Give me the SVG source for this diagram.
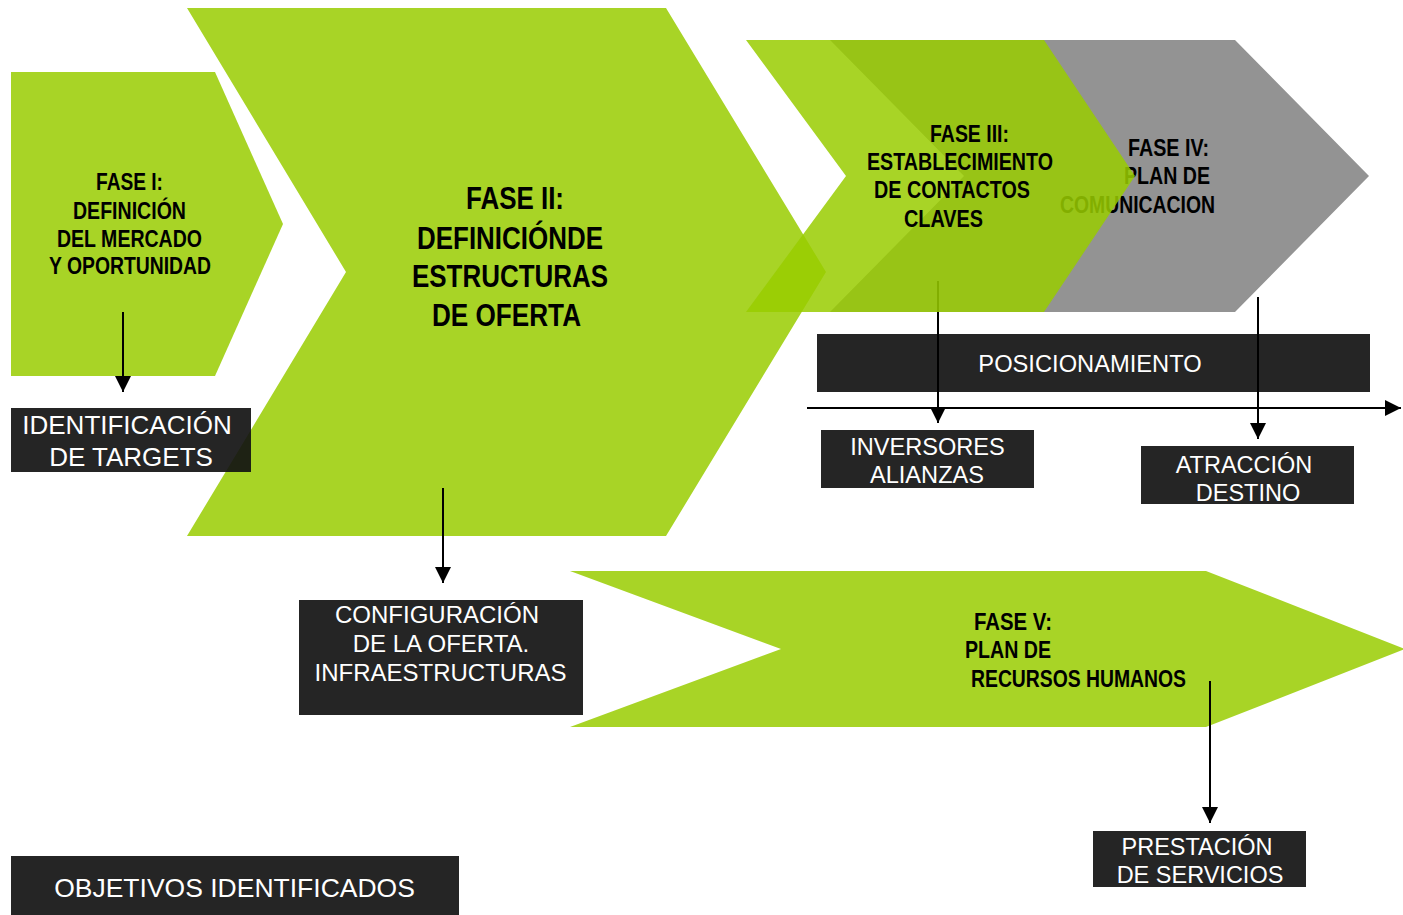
<svg xmlns="http://www.w3.org/2000/svg" width="1403" height="915" viewBox="0 0 1403 915">
<defs>
<style>
.green{fill:#99cc00;fill-opacity:0.85}
.gray{fill:#939393}
.box{fill:#121212;fill-opacity:0.92}
.bt{font-family:"Liberation Sans",Arial,sans-serif;font-weight:bold;font-size:24px;fill:#000}
.bt2{font-family:"Liberation Sans",Arial,sans-serif;font-weight:bold;font-size:32px;fill:#000}
.wt{font-family:"Liberation Sans",Arial,sans-serif;fill:#fff;text-anchor:middle}
.conn{stroke:#000;stroke-width:2;fill:none}
</style>
<marker id="ah" markerUnits="userSpaceOnUse" markerWidth="16" markerHeight="16" refX="16" refY="8" orient="auto" viewBox="0 0 16 16">
<path d="M0,0 L16,8 L0,16 z" fill="#000"/>
</marker>
</defs>
<rect width="1403" height="915" fill="#fff"/>

<g id="fase1">
<polygon class="green" points="11,72 215,72 283,224 215,376 11,376"/>
<text class="bt" x="96" y="190" textLength="67" lengthAdjust="spacingAndGlyphs">FASE I:</text>
<text class="bt" x="73" y="219" textLength="113" lengthAdjust="spacingAndGlyphs">DEFINICIÓN</text>
<text class="bt" x="57" y="247" textLength="145" lengthAdjust="spacingAndGlyphs">DEL MERCADO</text>
<text class="bt" x="49" y="274" textLength="162" lengthAdjust="spacingAndGlyphs">Y OPORTUNIDAD</text>
</g>

<g id="fase2">
<polygon class="green" points="187,8 666,8 826,272 666,536 187,536 346,272"/>
<text class="bt2" x="466" y="209" textLength="98" lengthAdjust="spacingAndGlyphs">FASE II:</text>
<text class="bt2" x="417" y="249" textLength="186" lengthAdjust="spacingAndGlyphs">DEFINICIÓNDE</text>
<text class="bt2" x="412" y="287" textLength="196" lengthAdjust="spacingAndGlyphs">ESTRUCTURAS</text>
<text class="bt2" x="432" y="326" textLength="149" lengthAdjust="spacingAndGlyphs">DE OFERTA</text>
</g>

<g id="fase5">
<polygon class="green" points="570,571 1206,571 1405,649 1206,727 570,727 781,649"/>
<text class="bt" x="974" y="630" textLength="78" lengthAdjust="spacingAndGlyphs">FASE V:</text>
<text class="bt" x="965" y="658" textLength="86" lengthAdjust="spacingAndGlyphs">PLAN DE</text>
<text class="bt" x="971" y="687" textLength="215" lengthAdjust="spacingAndGlyphs">RECURSOS HUMANOS</text>
</g>

<g id="fase4">
<polygon class="gray" points="830,40 1235,40 1369,176 1235,312 830,312 964,176"/>
<text class="bt" x="1128" y="156" textLength="81" lengthAdjust="spacingAndGlyphs">FASE IV:</text>
<text class="bt" x="1124" y="184" textLength="86" lengthAdjust="spacingAndGlyphs">PLAN DE</text>
<text class="bt" x="1060" y="213" textLength="155" lengthAdjust="spacingAndGlyphs">COMUNICACION</text>
</g>

<g id="identificacion">
<rect class="box" x="11" y="408" width="240" height="64"/>
<text class="wt" x="127" y="434" font-size="26">IDENTIFICACIÓN</text>
<text class="wt" x="131" y="466" font-size="26">DE TARGETS</text>
</g>

<g id="posicionamiento">
<rect class="box" x="817" y="334" width="553" height="58"/>
<text class="wt" x="1090" y="372" font-size="23.7">POSICIONAMIENTO</text>
</g>

<g id="inversores">
<rect class="box" x="821" y="430" width="213" height="58"/>
<text class="wt" x="927.5" y="455" font-size="23.6">INVERSORES</text>
<text class="wt" x="927" y="483" font-size="23.6">ALIANZAS</text>
</g>

<g id="atraccion">
<rect class="box" x="1141" y="446" width="213" height="58"/>
<text class="wt" x="1244" y="473" font-size="23.5">ATRACCIÓN</text>
<text class="wt" x="1248" y="501" font-size="23.5">DESTINO</text>
</g>

<g id="configuracion">
<rect class="box" x="299" y="600" width="284" height="115"/>
<text class="wt" x="437" y="623" font-size="24">CONFIGURACIÓN</text>
<text class="wt" x="441" y="652" font-size="24">DE LA OFERTA.</text>
<text class="wt" x="440.5" y="681" font-size="24">INFRAESTRUCTURAS</text>
</g>

<g id="prestacion">
<rect class="box" x="1093" y="831" width="213" height="56"/>
<text class="wt" x="1197" y="855" font-size="23.5">PRESTACIÓN</text>
<text class="wt" x="1200" y="883" font-size="23.5">DE SERVICIOS</text>
</g>

<g id="objetivos">
<rect class="box" x="11" y="856" width="448" height="59"/>
<text class="wt" x="234.5" y="897" font-size="26.5">OBJETIVOS IDENTIFICADOS</text>
</g>

<g id="connectors">
<line class="conn" x1="123" y1="312" x2="123" y2="392" marker-end="url(#ah)"/>
<line class="conn" x1="443" y1="488" x2="443" y2="583" marker-end="url(#ah)"/>
<line class="conn" x1="807" y1="408" x2="1401" y2="408" marker-end="url(#ah)"/>
<line class="conn" x1="938" y1="281" x2="938" y2="423" marker-end="url(#ah)"/>
<line class="conn" x1="1258" y1="297" x2="1258" y2="439" marker-end="url(#ah)"/>
<line class="conn" x1="1210" y1="681" x2="1210" y2="823" marker-end="url(#ah)"/>
</g>

<g id="fase3">
<polygon class="green" points="746,40 1044,40 1135,176 1044,312 746,312 846,176"/>
<text class="bt" x="930" y="142" textLength="79" lengthAdjust="spacingAndGlyphs">FASE III:</text>
<text class="bt" x="867" y="170" textLength="186" lengthAdjust="spacingAndGlyphs">ESTABLECIMIENTO</text>
<text class="bt" x="874" y="198" textLength="156" lengthAdjust="spacingAndGlyphs">DE CONTACTOS</text>
<text class="bt" x="904" y="227" textLength="79" lengthAdjust="spacingAndGlyphs">CLAVES</text>
</g>
</svg>
